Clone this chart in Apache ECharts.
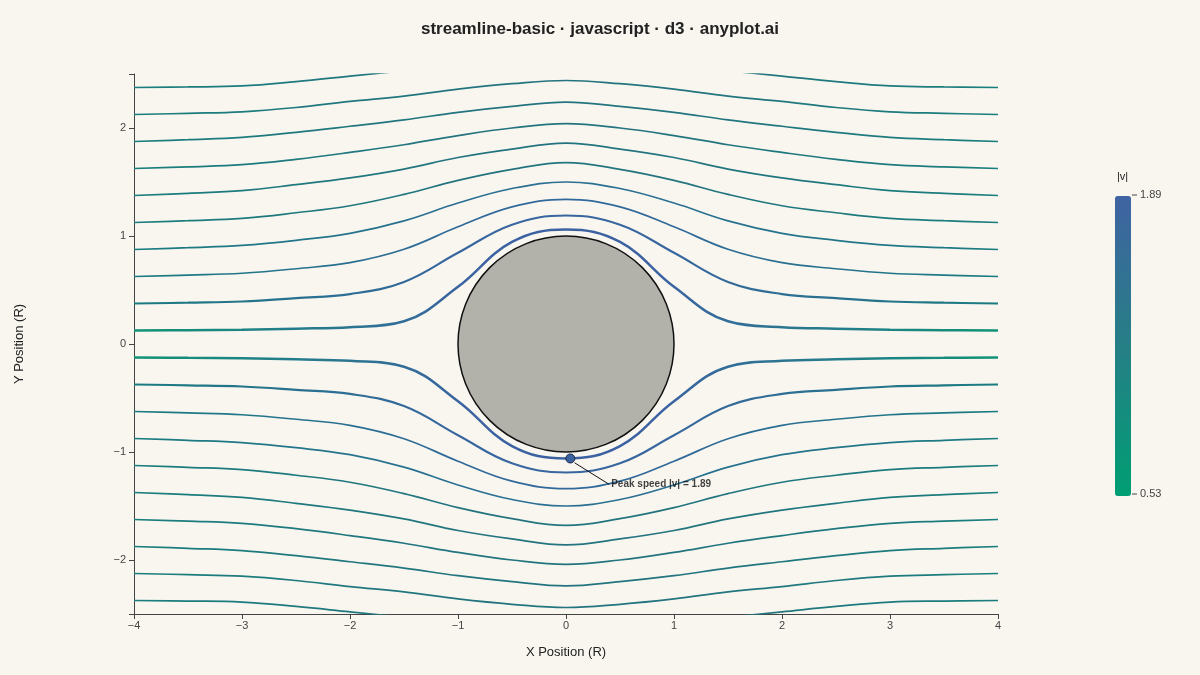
<!DOCTYPE html>
<html><head><meta charset="utf-8">
<script src="https://cdn.jsdelivr.net/npm/echarts@6/dist/echarts.min.js"></script>
<style>html,body{margin:0;background:#f9f6f0}#c{width:1200px;height:675px}</style>
</head><body><div id="c"></div>
<script>
// x stations along each streamline (upper half, left side; mirrored for right side and lower half)
const xStations = [-4, -3.5, -3, -2.5, -2, -1.5, -1, -0.5, 0];
// y of each upper streamline at those stations
const line0 = [0.125, 0.128, 0.132, 0.142, 0.156, 0.21, 0.53, 0.945, 1.06];
const line1 = [0.375, 0.383, 0.394, 0.425, 0.462, 0.575, 0.845, 1.105, 1.19];
const line2 = [0.625, 0.638, 0.655, 0.697, 0.753, 0.877, 1.085, 1.27, 1.34];
const line3 = [0.875, 0.892, 0.913, 0.96, 1.025, 1.14, 1.305, 1.44, 1.50];
const line4 = [1.125, 1.142, 1.163, 1.215, 1.28, 1.385, 1.515, 1.617, 1.68];
const line5 = [1.375, 1.395, 1.42, 1.475, 1.538, 1.62, 1.727, 1.805, 1.86];
const line6 = [1.625, 1.64, 1.66, 1.71, 1.774, 1.845, 1.93, 2.0, 2.04];
const line7 = [1.875, 1.892, 1.913, 1.96, 2.016, 2.075, 2.145, 2.2, 2.24];
const line8 = [2.125, 2.136, 2.15, 2.19, 2.246, 2.295, 2.36, 2.41, 2.44];
const line9 = [2.375, 2.38, 2.39, 2.43, 2.48, 2.53, 2.58, 2.62, 2.64];
const upperLines = [line0, line1, line2, line3, line4, line5, line6, line7, line8, line9];
const peakPoint = [0.04, -1.06];
const peakSpeed = 1.89, minSpeed = 0.53;
const yTicks = [-2.5, -2, -1, 0, 1, 2, 2.5];
const yLabels = [-2, -1, 0, 1, 2];

function fullLine(ys, sign) {
  const pts = xStations.map((x, i) => [x, sign * ys[i]]);
  for (let i = xStations.length - 2; i >= 0; i--) pts.push([-xStations[i], sign * ys[i]]);
  return pts;
}
function grad(k) {
  let mid, end, a = 0.38;
  if (k === 0) { mid = '#3c62a2'; end = '#0f9475'; a = 0.4; }
  else if (k === 1) { mid = '#38669f'; end = '#1a7c80'; }
  else if (k === 2) { mid = '#31699a'; end = '#1a7c80'; }
  else if (k === 3) { mid = '#2b6f92'; end = '#1a7c80'; }
  else { mid = '#23747f'; end = '#1a7e7c'; }
  return new echarts.graphic.LinearGradient(0, 0, 1, 0, [
    {offset: 0, color: end}, {offset: a, color: mid}, {offset: 1 - a, color: mid}, {offset: 1, color: end}]);
}
const fmt = v => (v < 0 ? '\u2212' + Math.abs(v) : String(v));
const series = [];
upperLines.forEach((ys, k) => {
  [1, -1].forEach(s => series.push({
    type: 'line', data: fullLine(ys, s), smooth: 0.4, symbol: 'none', clip: true,
    lineStyle: {color: grad(k), width: k === 0 ? 2.5 : (k === 1 ? 2.1 : 1.7)}, z: 2, silent: true
  }));
});
series.push({type: 'scatter', data: [[0, 0]], symbolSize: 216, z: 5, silent: true,
  itemStyle: {color: '#b2b1aa', borderColor: '#111', borderWidth: 1.5, opacity: 1}});
series.push({type: 'line', data: [[peakPoint[0] + 0.04, peakPoint[1] - 0.04], [0.4, -1.3]], symbol: 'none', z: 6,
  lineStyle: {color: '#111', width: 1}, silent: true});
series.push({type: 'scatter', data: [[0.4, -1.3]], symbolSize: 0, z: 7,
  label: {show: true, position: 'right', distance: 2, formatter: 'Peak speed |v| = ' + peakSpeed,
    fontWeight: 'bold', fontSize: 10, color: '#111', fontFamily: 'Liberation Sans'}});
series.push({type: 'scatter', data: [peakPoint], symbolSize: 9, z: 8,
  itemStyle: {color: '#3a62a0', borderColor: '#1a2a40', borderWidth: 1, opacity: 1}});

const chart = echarts.init(document.getElementById('c'));
chart.setOption({
  backgroundColor: '#f9f6f0', animation: false,
  textStyle: {fontFamily: 'Liberation Sans'},
  title: {text: 'streamline-basic \u00b7 javascript \u00b7 d3 \u00b7 anyplot.ai', left: 'center', top: 16,
    textStyle: {fontSize: 17, fontWeight: 'bold', color: '#222'}},
  grid: {left: 134, right: 202, top: 74, bottom: 61},
  xAxis: {type: 'value', min: -4, max: 4, interval: 1, name: 'X Position (R)', nameLocation: 'middle', nameGap: 32,
    nameTextStyle: {fontSize: 13, color: '#222'},
    axisLine: {onZero: false, lineStyle: {color: '#444'}}, axisTick: {show: true, length: 5, lineStyle: {color: '#444'}},
    axisLabel: {formatter: fmt, color: '#444', fontSize: 11, margin: 6}, splitLine: {show: false}},
  yAxis: {type: 'value', min: -2.5, max: 2.5, name: 'Y Position (R)', nameLocation: 'middle', nameGap: 108,
    nameTextStyle: {fontSize: 13, color: '#222'},
    axisLine: {show: true, onZero: false, lineStyle: {color: '#444'}},
    axisTick: {show: true, length: 5, customValues: yTicks, lineStyle: {color: '#444'}},
    axisLabel: {customValues: yLabels, formatter: fmt, color: '#444', fontSize: 11}, splitLine: {show: false}},
  visualMap: {type: 'continuous', min: minSpeed, max: peakSpeed, seriesIndex: [], calculable: false,
    right: 54, top: 181, itemWidth: 16, itemHeight: 300, text: null, showLabel: false,
    inRange: {color: ['#009e73', '#267f86', '#3f63a2']}},
  graphic: [
    {type: 'text', left: 1117, top: 171, style: {text: '|v|', fontSize: 11, fill: '#222', fontFamily: 'Liberation Sans'}},
    {type: 'line', shape: {x1: 1132, y1: 195, x2: 1137, y2: 195}, style: {stroke: '#444'}},
    {type: 'line', shape: {x1: 1132, y1: 494, x2: 1137, y2: 494}, style: {stroke: '#444'}},
    {type: 'text', left: 1140, top: 189, style: {text: String(peakSpeed), fontSize: 11, fill: '#444', fontFamily: 'Liberation Sans'}},
    {type: 'text', left: 1140, top: 488, style: {text: String(minSpeed), fontSize: 11, fill: '#444', fontFamily: 'Liberation Sans'}}
  ],
  series
});
</script></body></html>
